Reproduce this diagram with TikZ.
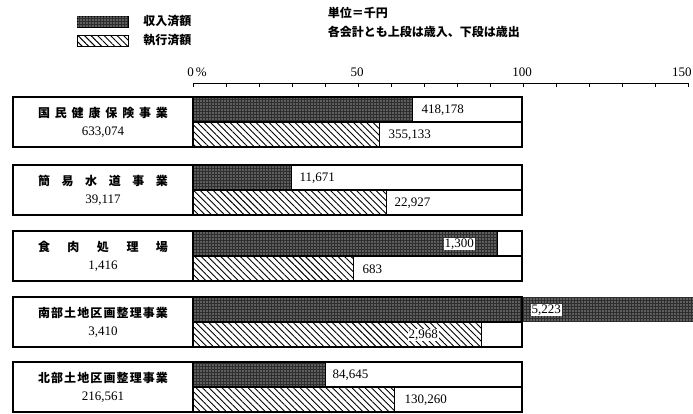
\documentclass[tikz,border=0pt]{standalone}
\usepackage{fontspec}
\setmainfont{Liberation Serif}
\newfontfamily\jp{Noto Sans CJK JP}
\usetikzlibrary{patterns.meta,positioning}

\begin{document}
\begin{tikzpicture}[x=1pt,y=-1pt,line width=1pt,
        income/.style={fill=black!82,postaction={pattern={Dots[distance=3pt,radius=0.55pt]},pattern color=white}},
        spent/.style={pattern={Lines[angle=-45,distance=4.6pt,line width=0.9pt]}},
        namebox/.style={draw,line width=1.2pt,minimum width=180pt,minimum height=50pt,align=center,font=\fontsize{13}{18}\selectfont},
        val/.style={anchor=west,fill=white,inner sep=1pt,font=\fontsize{13}{13}\selectfont},
        key/.style={draw,minimum width=51pt,minimum height=11pt,inner sep=0pt},
        jtext/.style={font=\fontsize{12}{12}\selectfont\jp\bfseries}]
    \useasboundingbox (0,0) rectangle (693,413);

    % legend and notes
    \node[key,income] (keyinc) at (102.5,21.5) {};
    \node[key,spent] (keyexp) at (102.5,40.5) {};
    \node[jtext,right=11pt of keyinc] (keyinctext) {収入済額};
    \node[jtext,right=11pt of keyexp] (keyexptext) {執行済額};
    \node[jtext,anchor=west] (unit) at (324,13) {単位＝千円};
    \node[jtext,anchor=west] (note) at (324,32) {各会計とも上段は歳入、下段は歳出};

    % scale
    \draw (193,83) -- (688,83);
    \foreach \k in {0,...,15}
        \draw (193+\k*33,83) -- ++(0,4);
    \node[font=\fontsize{13}{13}\selectfont] (ax0) at (197,72) {0\,\%};
    \node[font=\fontsize{13}{13}\selectfont] (ax50) at (357,72) {50};
    \node[font=\fontsize{13}{13}\selectfont] (ax100) at (522,72) {100};
    \node[font=\fontsize{13}{13}\selectfont,anchor=east,inner sep=1pt] (ax150) at (693,72) {150};

    % one block per account
    \foreach \gy/\gname/\gtot/\incx/\inclx/\incv/\expx/\explx/\expv [count=\i] in {
        97/{国\hfill 民\hfill 健\hfill 康\hfill 保\hfill 険\hfill 事\hfill 業}/{633,074}/412/420/{418,178}/379/387/{355,133},
        165/{簡\hfill 易\hfill 水\hfill 道\hfill 事\hfill 業}/{39,117}/291/298/{11,671}/386/393/{22,927},
        231/{食\hfill 肉\hfill 処\hfill 理\hfill 場}/{1,416}/497/443/{1,300}/353/361/{683},
        297/{南\hfill 部\hfill 土\hfill 地\hfill 区\hfill 画\hfill 整\hfill 理\hfill 事\hfill 業}/{3,410}/700/530/{5,223}/481/407/{2,968},
        362/{北\hfill 部\hfill 土\hfill 地\hfill 区\hfill 画\hfill 整\hfill 理\hfill 事\hfill 業}/{216,561}/325/331/{84,645}/394/403/{130,260}}{
        \fill[income] (193,\gy) rectangle (\incx,\gy+25);
        \fill[spent] (193,\gy+25) rectangle (\expx,\gy+50);
        \draw[line width=1.2pt] (193,\gy) rectangle (522,\gy+50) (193,\gy+25) -- (522,\gy+25);
        \draw (\incx,\gy) -- (\incx,\gy+25) (\expx,\gy+25) -- (\expx,\gy+50);
        \node[namebox] (name\i) at (103,\gy+25) {\hbox to 130pt{\fontsize{12}{12}\selectfont\jp\bfseries\gname}\\\gtot};
        \node[val] (inc\i) at (\inclx,\gy+13) {\incv};
        \node[val] (exp\i) at (\explx,\gy+38) {\expv};
    }
\end{tikzpicture}
\end{document}
